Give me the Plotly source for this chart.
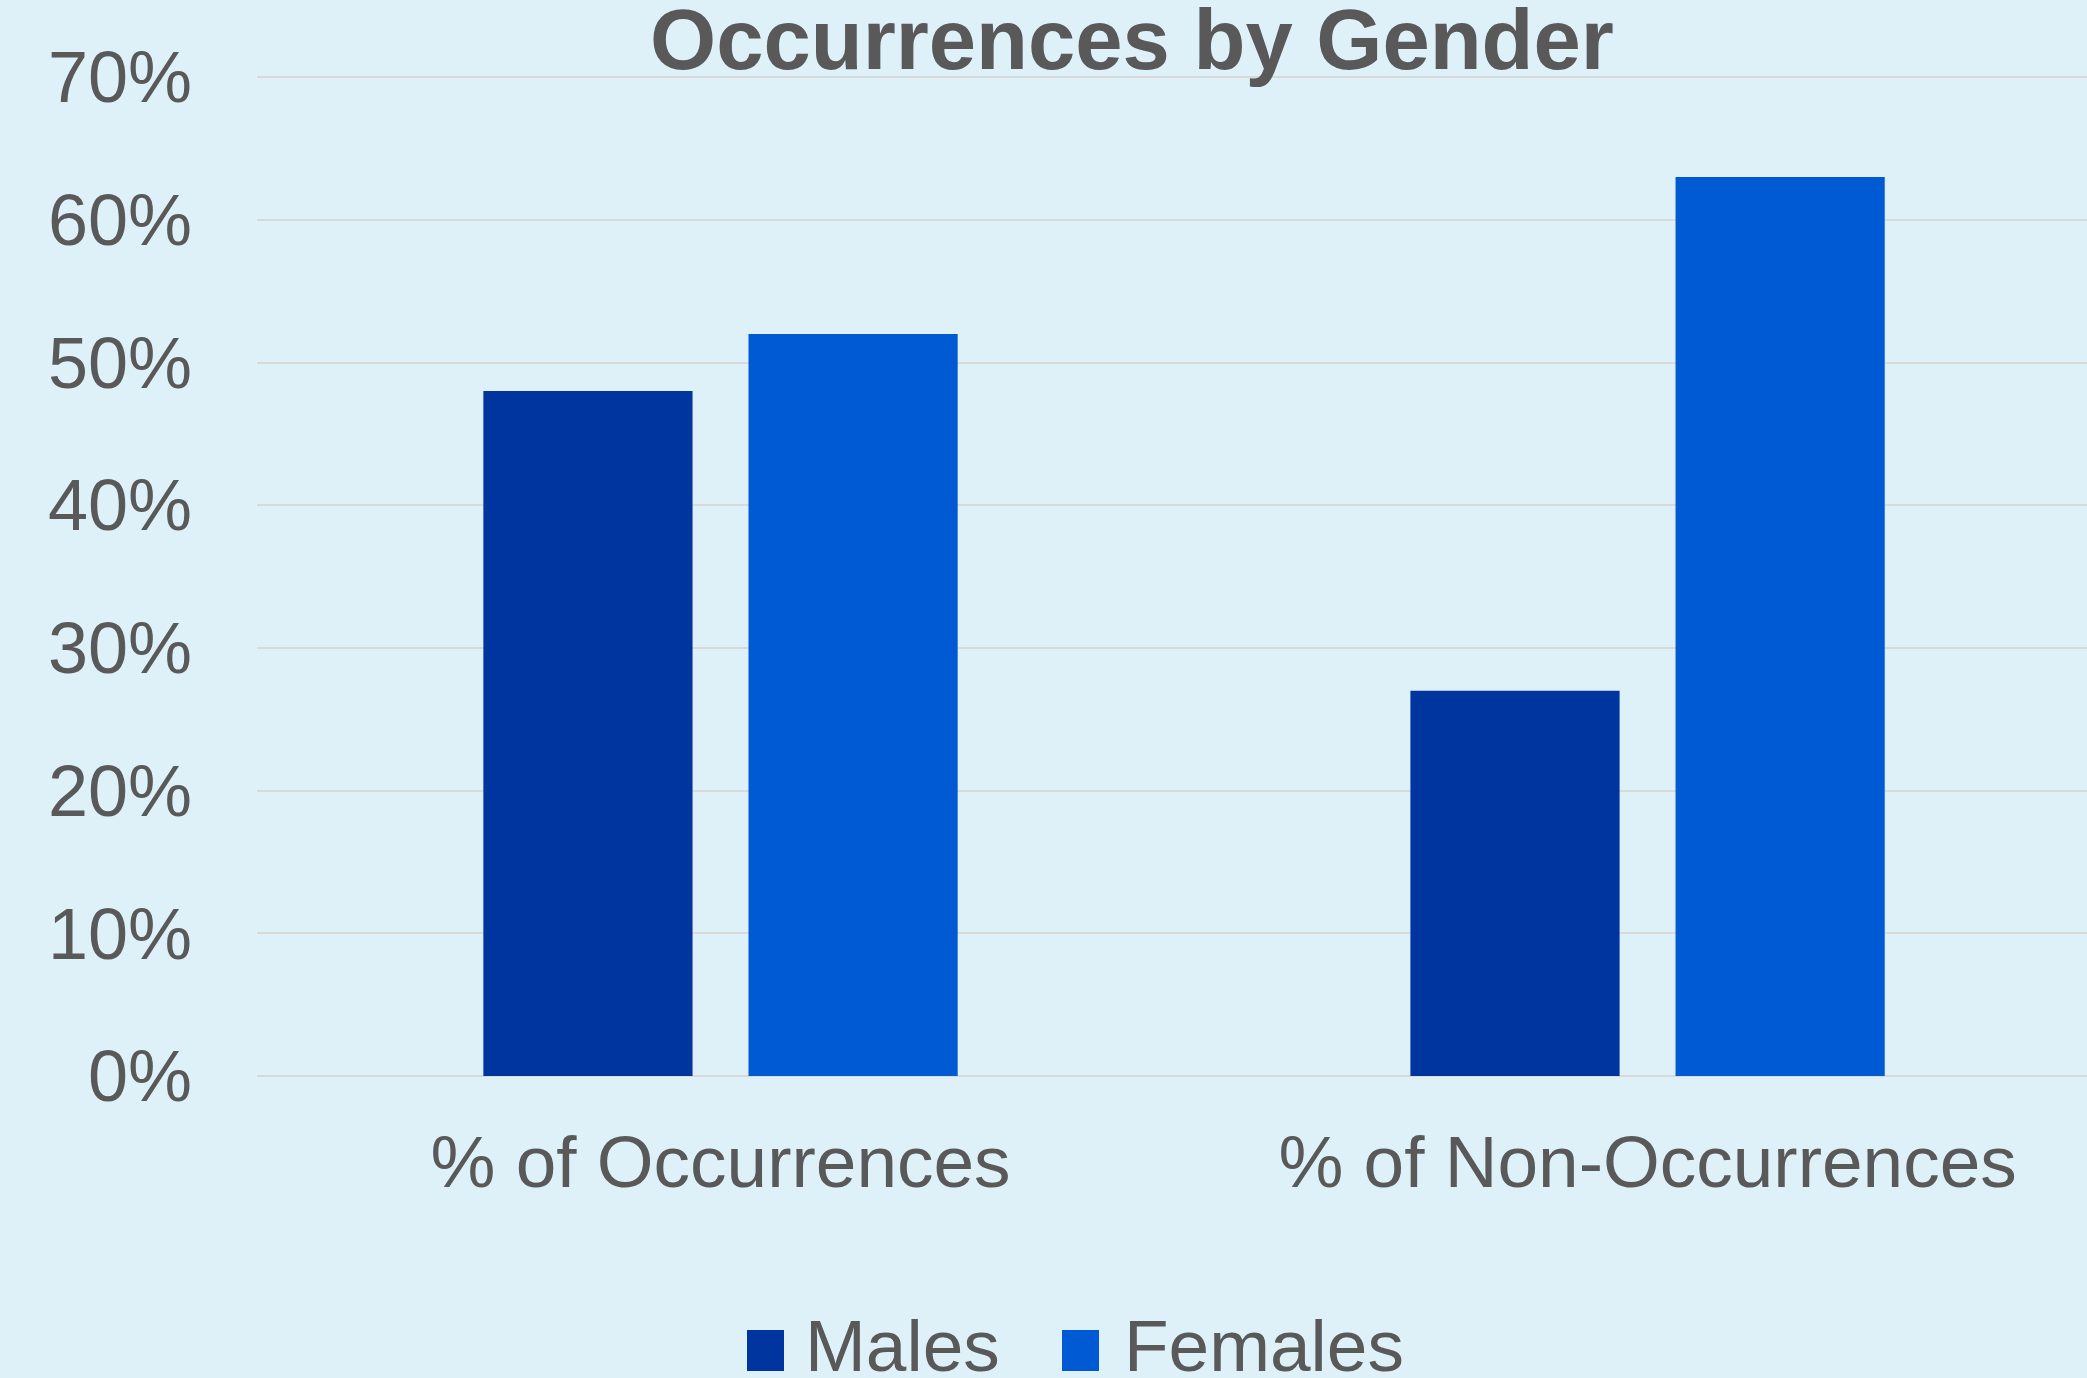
import plotly.graph_objects as go

# Chart data
categories = ["% of Occurrences", "% of Non-Occurrences"]
series_names = ["Males", "Females"]
males = [0.48, 0.27]
females = [0.52, 0.63]
series_colors = ["#0035A0", "#005AD4"]

W, H = 2087, 1378
ML, MR, MT, MB = 257, 0, 76, 302
PW, PH = W - ML - MR, H - MT - MB

TEXT = "#595959"
BG = "#DFF1F8"
GRID = "#D9D9D9"
FONT = "Liberation Sans, Arial, sans-serif"


def px_x(px):
    return (px - ML) / PW


def px_y(py):
    return (H - MB - py) / PH


fig = go.Figure()
for name, vals, col in zip(series_names, [males, females], series_colors):
    fig.add_trace(go.Bar(
        x=categories, y=vals, name=name,
        marker=dict(color=col, line=dict(width=0)),
        showlegend=False,
    ))

# Legend drawn as swatches + labels below the chart
legend_items = [(747, 803), (1062, 1122)]
shapes, annotations = [], []
for (sx, tx), name, col in zip(legend_items, series_names, series_colors):
    shapes.append(dict(type="rect", xref="paper", yref="paper",
                       x0=px_x(sx), x1=px_x(sx + 37),
                       y0=px_y(1371), y1=px_y(1330),
                       fillcolor=col, line=dict(width=0)))
    annotations.append(dict(text=name, xref="paper", yref="paper",
                            x=px_x(tx), y=px_y(1345),
                            xanchor="left", yanchor="middle", showarrow=False,
                            font=dict(family=FONT, size=73, color=TEXT)))

fig.update_layout(
    width=W, height=H,
    margin=dict(l=ML, r=MR, t=MT, b=MB, pad=0),
    paper_bgcolor=BG, plot_bgcolor=BG,
    barmode="group", bargap=0.428, bargroupgap=0.211,
    title=dict(text="<b>Occurrences by Gender</b>", x=1132 / W, xref="container",
               xanchor="center", y=1 - 39 / H, yref="container", yanchor="middle",
               font=dict(family=FONT, size=85, color=TEXT)),
    font=dict(family=FONT, color=TEXT),
    shapes=shapes, annotations=annotations,
    xaxis=dict(range=[-0.5, 1.474], showgrid=False, showline=False, ticks="",
               tickfont=dict(family=FONT, size=73, color=TEXT),
               ticklabelstandoff=37),
    yaxis=dict(range=[0, 0.7008], tickvals=[0, 0.1, 0.2, 0.3, 0.4, 0.5, 0.6, 0.7],
               tickformat=".0%",
               showgrid=True, gridcolor=GRID, gridwidth=2,
               zeroline=True, zerolinecolor=GRID, zerolinewidth=2,
               showline=False, ticks="",
               tickfont=dict(family=FONT, size=72, color=TEXT),
               ticklabelstandoff=64),
)

fig.write_html("out.html")
